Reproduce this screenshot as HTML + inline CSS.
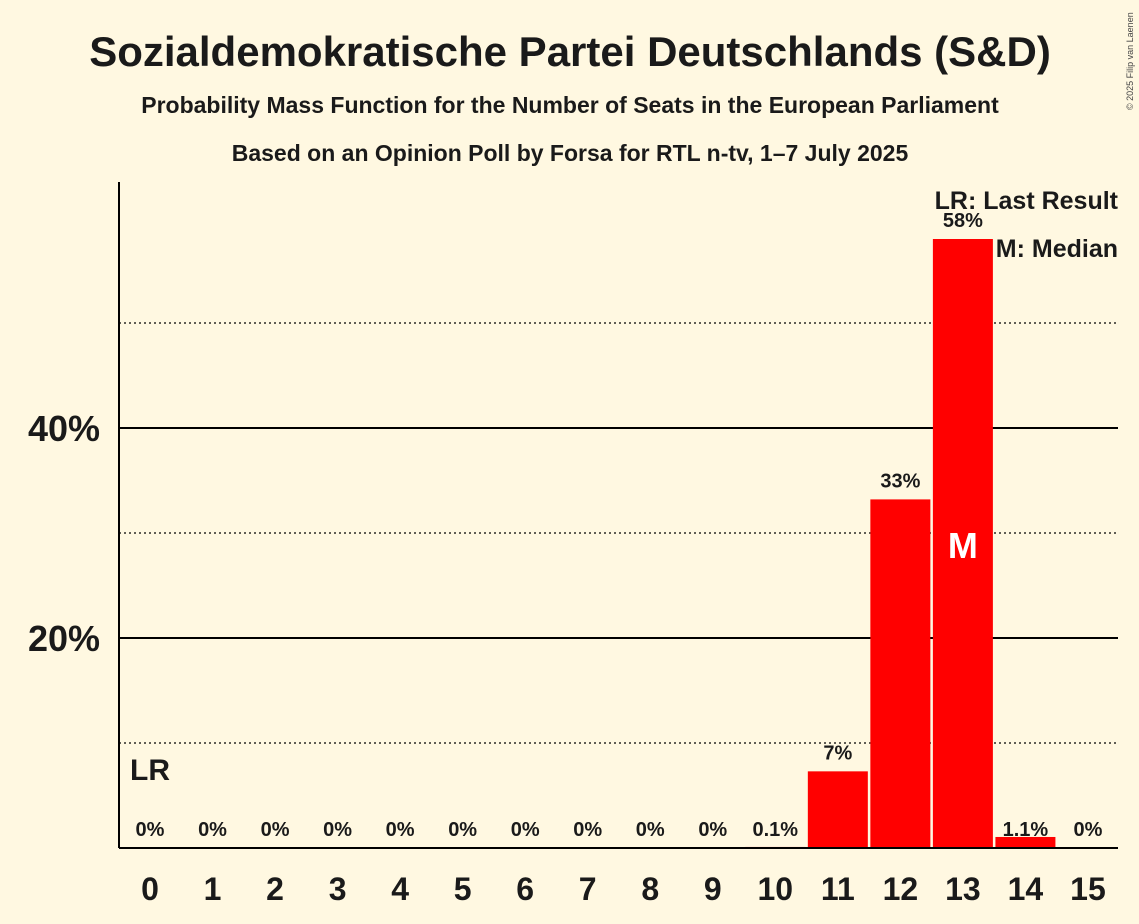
<!DOCTYPE html>
<html><head><meta charset="utf-8"><style>
body{margin:0;background:#fff8e1;font-family:"Liberation Sans",sans-serif;}
svg{display:block}
</style></head><body>
<svg id="chart" width="1139" height="924" viewBox="0 0 1139 924">
<rect width="1139" height="924" fill="#fff8e1"/>
<text x="570" y="66" text-anchor="middle" font-size="42" font-weight="bold" fill="#1a1a1a">Sozialdemokratische Partei Deutschlands (S&amp;D)</text>
<text x="570" y="113" text-anchor="middle" font-size="23" font-weight="bold" fill="#1a1a1a">Probability Mass Function for the Number of Seats in the European Parliament</text>
<text x="570" y="161" text-anchor="middle" font-size="23" font-weight="bold" fill="#1a1a1a">Based on an Opinion Poll by Forsa for RTL n-tv, 1–7 July 2025</text>
<text x="1133" y="110" font-size="9" fill="#444" transform="rotate(-90 1133 110)">© 2025 Filip van Laenen</text>
<g id="grid"></g>
<g id="bars"></g>
<g id="xlabels"></g>
<line x1="119" y1="182" x2="119" y2="848" stroke="#000" stroke-width="2"/>
<line x1="119" y1="848" x2="1118" y2="848" stroke="#000" stroke-width="2"/>
<text x="1118" y="209" text-anchor="end" font-size="25" font-weight="bold" fill="#1a1a1a">LR: Last Result</text>
<text x="1118" y="257" text-anchor="end" font-size="25" font-weight="bold" fill="#1a1a1a">M: Median</text>
</svg>
<script>
const seats=[0,1,2,3,4,5,6,7,8,9,10,11,12,13,14,15];
const probs=[0,0,0,0,0,0,0,0,0,0,0.1,7.3,33.2,58,1.05,0];
const valueLabels=["0%","0%","0%","0%","0%","0%","0%","0%","0%","0%","0.1%","7%","33%","58%","1.1%","0%"];
const majorTicks=[20,40];
const majorTickLabels=["20%","40%"];
const minorTicks=[10,30,50];
const medianSeat=13;
const lastResultSeat=0;
const NS="http://www.w3.org/2000/svg";
const y=v=>848-v*10.5;
const x=s=>150+s*62.53;
function mk(tag,attrs,parent,text){const e=document.createElementNS(NS,tag);for(const k in attrs)e.setAttribute(k,attrs[k]);if(text!==undefined)e.textContent=text;parent.appendChild(e);return e;}
const grid=document.getElementById('grid'),bars=document.getElementById('bars'),xl=document.getElementById('xlabels');
minorTicks.forEach(t=>{const l=mk('line',{x1:119,x2:1118,y1:y(t),y2:y(t),stroke:'#000','stroke-width':1.2,'stroke-dasharray':'2,3'},grid);

});
majorTicks.forEach((t,i)=>{const l=mk('line',{x1:119,x2:1118,y1:y(t),y2:y(t),stroke:'#000','stroke-width':2},grid);


const tx=mk('text',{x:100,y:y(t)+13,'text-anchor':'end','font-size':36,'font-weight':'bold',fill:'#1a1a1a'},grid,majorTickLabels[i]);

});
seats.forEach((s,i)=>{const v=probs[i];
if(v>0){const r=mk('rect',{x:x(s)-30,y:y(v),width:60,height:848-y(v),fill:'#ff0000'},bars);

}
const ly=v>2?y(v)-12:836;
const t=mk('text',{x:x(s),y:ly,'text-anchor':'middle','font-size':20,'font-weight':'bold',fill:'#1a1a1a'},bars,valueLabels[i]);


const xt=mk('text',{x:x(s),y:900,'text-anchor':'middle','font-size':32,'font-weight':'bold',fill:'#1a1a1a'},xl,String(s));

});
const m=mk('text',{x:x(medianSeat),y:558,'text-anchor':'middle','font-size':36,'font-weight':'bold',fill:'#fff'},bars,'M');


const lr=mk('text',{x:x(lastResultSeat),y:780,'text-anchor':'middle','font-size':30,'font-weight':'bold',fill:'#1a1a1a'},bars,'LR');


</script>
</body></html>
